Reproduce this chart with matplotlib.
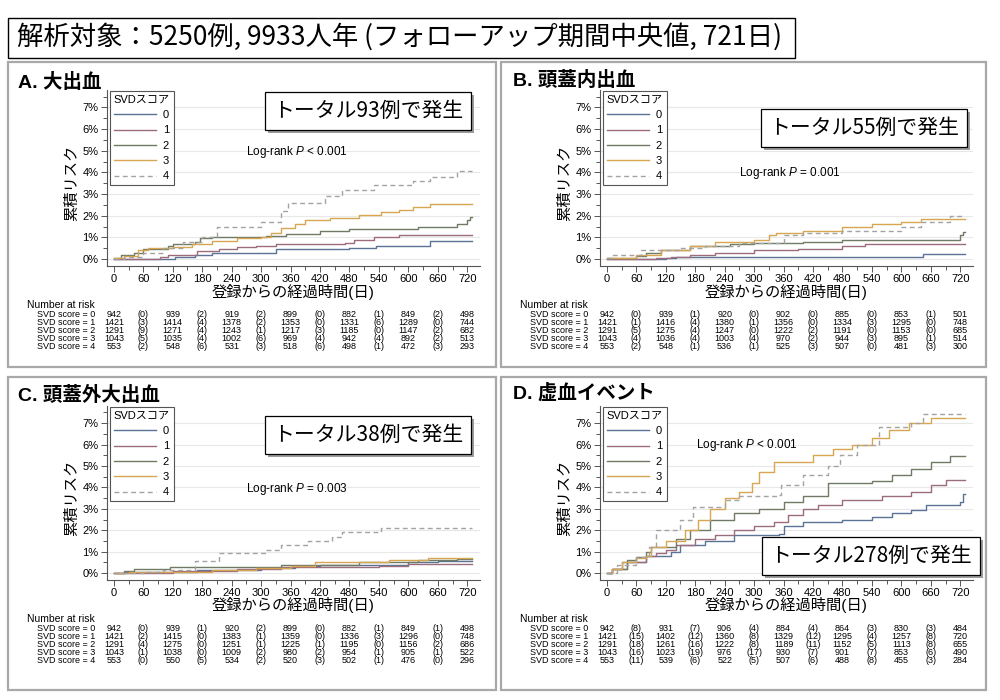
import matplotlib
matplotlib.use("Agg")
import matplotlib.pyplot as plt
from matplotlib.patches import Rectangle
from matplotlib.ticker import MultipleLocator, FuncFormatter
from matplotlib.transforms import blended_transform_factory

plt.rcParams['font.family'] = ['Liberation Sans', 'Noto Sans CJK JP']
plt.rcParams['mathtext.fontset'] = 'custom'
plt.rcParams['mathtext.rm'] = 'Liberation Sans'
plt.rcParams['mathtext.it'] = 'Liberation Sans:italic'

# --- data (days, cumulative risk %) ---
scores = ["0", "1", "2", "3", "4"]
time_ticks = [0, 120, 240, 360, 480, 600, 720]

# A. major bleeding
a0 = [(0, 0), (125, 0.1), (165, 0.2), (200, 0.3), (330, 0.45), (480, 0.5), (535, 0.6), (645, 0.85), (729, 0.85)]
a1 = [(0, 0), (95, 0.1), (110, 0.2), (170, 0.35), (215, 0.45), (250, 0.55), (290, 0.62), (330, 0.7), (470, 0.75),
      (490, 0.9), (530, 1.0), (580, 1.1), (729, 1.1)]
a2 = [(0, 0.05), (15, 0.2), (40, 0.3), (60, 0.45), (110, 0.6), (120, 0.7), (165, 0.8), (175, 0.95), (200, 1.0),
      (310, 1.05), (350, 1.15), (420, 1.3), (480, 1.4), (620, 1.5), (700, 1.6), (720, 1.8), (726, 1.95), (729, 1.95)]
a3 = [(0, 0.05), (20, 0.15), (50, 0.4), (70, 0.5), (120, 0.55), (160, 0.7), (200, 0.85), (250, 0.95), (300, 1.0),
      (320, 1.2), (340, 1.45), (370, 1.6), (390, 1.8), (440, 1.9), (500, 2.05), (545, 2.15), (580, 2.25),
      (610, 2.4), (645, 2.55), (729, 2.55)]
a4 = [(0, 0), (20, 0.1), (60, 0.3), (100, 0.5), (140, 0.8), (180, 1.0), (210, 1.5), (300, 1.7), (340, 2.2),
      (355, 2.6), (430, 2.9), (465, 3.2), (530, 3.4), (610, 3.6), (645, 3.8), (700, 4.05), (729, 4.05)]

# B. intracranial haemorrhage
b0 = [(0, 0), (120, 0.05), (140, 0.1), (645, 0.25), (729, 0.25)]
b1 = [(0, 0), (100, 0.05), (130, 0.1), (170, 0.2), (220, 0.3), (300, 0.4), (390, 0.45), (480, 0.6), (525, 0.7),
      (729, 0.7)]
b2 = [(0, 0.05), (60, 0.15), (80, 0.3), (110, 0.4), (170, 0.6), (250, 0.7), (300, 0.75), (400, 0.8), (480, 0.9),
      (700, 0.9), (720, 1.1), (726, 1.25), (729, 1.25)]
b3 = [(0, 0.05), (60, 0.2), (110, 0.4), (170, 0.6), (220, 0.8), (300, 0.9), (330, 1.1), (345, 1.2), (400, 1.3),
      (480, 1.5), (540, 1.6), (600, 1.7), (640, 1.85), (729, 1.85)]
b4 = [(0, 0.05), (10, 0.2), (70, 0.4), (150, 0.5), (200, 0.6), (270, 0.75), (360, 1.1), (400, 1.2), (480, 1.3),
      (600, 1.5), (640, 1.7), (700, 2.0), (729, 2.0)]

# C. extracranial major bleeding
c0 = [(0, 0), (20, 0.05), (170, 0.15), (300, 0.25), (370, 0.35), (420, 0.4), (600, 0.5), (660, 0.55), (729, 0.55)]
c1 = [(0, 0), (120, 0.1), (250, 0.2), (340, 0.3), (540, 0.35), (600, 0.45), (729, 0.45)]
c2 = [(0, 0), (20, 0.1), (40, 0.2), (115, 0.3), (340, 0.4), (500, 0.5), (620, 0.6), (700, 0.65), (729, 0.65)]
c3 = [(0, 0), (30, 0.05), (200, 0.15), (290, 0.25), (360, 0.35), (410, 0.5), (560, 0.6), (640, 0.72), (729, 0.72)]
c4 = [(0, 0), (60, 0.05), (100, 0.15), (165, 0.55), (215, 0.95), (310, 1.1), (340, 1.3), (395, 1.5), (445, 1.7),
      (465, 1.9), (545, 2.1), (729, 2.1)]

# D. ischaemic events
d0 = [(0, 0), (10, 0.2), (30, 0.5), (80, 0.8), (130, 1.0), (150, 1.3), (200, 1.5), (260, 1.8), (350, 1.85),
      (360, 2.2), (400, 2.4), (480, 2.5), (540, 2.6), (580, 2.8), (620, 2.95), (650, 3.2), (720, 3.3), (725, 3.7),
      (729, 3.7)]
d1 = [(0, 0), (10, 0.2), (40, 0.5), (80, 0.8), (100, 0.95), (120, 1.1), (140, 1.3), (180, 1.6), (220, 1.8),
      (260, 2.0), (300, 2.2), (340, 2.4), (370, 2.7), (400, 3.0), (430, 3.2), (480, 3.4), (560, 3.6), (620, 3.8),
      (660, 4.1), (690, 4.35), (729, 4.35)]
d2 = [(0, 0), (10, 0.2), (40, 0.6), (60, 0.75), (80, 1.0), (90, 1.2), (140, 1.6), (170, 2.0), (210, 2.5),
      (260, 2.8), (310, 3.0), (360, 3.3), (400, 3.6), (450, 4.2), (540, 4.3), (580, 4.6), (620, 4.85), (660, 5.2),
      (700, 5.45), (729, 5.45)]
d3 = [(0, 0), (10, 0.2), (30, 0.5), (60, 0.7), (80, 0.8), (90, 1.2), (120, 1.5), (160, 2.0), (185, 2.5), (210, 3.0),
      (240, 3.5), (270, 3.8), (295, 4.2), (310, 4.7), (340, 5.2), (420, 5.5), (460, 5.8), (500, 6.0), (540, 6.3),
      (575, 6.7), (615, 7.0), (660, 7.25), (729, 7.25)]
d4 = [(0, 0), (20, 0.4), (60, 0.75), (85, 1.2), (100, 2.0), (150, 2.5), (175, 3.1), (240, 3.4), (270, 3.6),
      (350, 3.65), (355, 4.1), (400, 4.6), (450, 5.0), (475, 5.5), (510, 6.0), (555, 6.8), (620, 7.0), (645, 7.45),
      (729, 7.45)]

# number at risk and events in each interval
a_at_risk = [[942, 939, 919, 899, 882, 849, 498], [1421, 1414, 1378, 1353, 1331, 1289, 744],
             [1291, 1271, 1243, 1217, 1185, 1147, 682], [1043, 1035, 1002, 969, 942, 892, 513],
             [553, 548, 531, 518, 498, 472, 293]]
a_events = [[0, 2, 2, 0, 1, 2], [3, 4, 2, 0, 6, 0], [9, 4, 1, 3, 0, 2], [5, 4, 6, 4, 4, 2], [2, 6, 3, 6, 1, 3]]
b_at_risk = [[942, 939, 920, 902, 885, 853, 501], [1421, 1416, 1380, 1356, 1334, 1295, 748],
             [1291, 1275, 1247, 1222, 1191, 1153, 685], [1043, 1036, 1003, 970, 944, 895, 514],
             [553, 548, 536, 525, 507, 481, 300]]
b_events = [[0, 1, 0, 0, 0, 1], [1, 4, 1, 0, 3, 0], [5, 4, 0, 2, 0, 0], [4, 4, 4, 2, 3, 1], [2, 1, 1, 3, 0, 3]]
c_at_risk = [[942, 939, 920, 899, 882, 849, 498], [1421, 1415, 1383, 1359, 1336, 1296, 748],
             [1291, 1275, 1251, 1225, 1195, 1156, 686], [1043, 1038, 1009, 980, 954, 905, 522],
             [553, 550, 534, 520, 502, 476, 296]]
c_events = [[0, 1, 2, 0, 1, 1], [2, 0, 1, 0, 3, 0], [4, 0, 1, 1, 0, 2], [1, 0, 2, 2, 1, 1], [0, 5, 2, 3, 1, 0]]
d_at_risk = [[942, 931, 906, 884, 864, 830, 484], [1421, 1402, 1360, 1329, 1295, 1257, 720],
             [1291, 1261, 1222, 1189, 1152, 1113, 655], [1043, 1023, 976, 930, 901, 853, 490],
             [553, 539, 522, 507, 488, 455, 284]]
d_events = [[8, 7, 4, 4, 3, 3], [15, 12, 8, 12, 4, 8], [18, 16, 8, 11, 5, 8], [16, 19, 17, 7, 7, 6],
            [11, 6, 5, 6, 8, 3]]

panel_titles = ["A. 大出血", "B. 頭蓋内出血", "C. 頭蓋外大出血", "D. 虚血イベント"]
totals = ["トータル93例で発生", "トータル55例で発生", "トータル38例で発生", "トータル278例で発生"]
p_texts = [r"Log-rank $P$ < 0.001", r"Log-rank $P$ = 0.001", r"Log-rank $P$ = 0.003", r"Log-rank $P$ < 0.001"]
header = "解析対象：5250例, 9933人年 (フォローアップ期間中央値, 721日)"

colors = ["#5b7396", "#9c6b7c", "#707a64", "#d8a650", "#a3a3a3"]

W, H = 1000, 700
fig = plt.figure(figsize=(10, 7), dpi=100)


def fx(x):
    return x / W


def fy(y):
    return 1 - y / H


def px_rect(l, t, r, b):
    return [fx(l), fy(b), (r - l) / W, (b - t) / H]


# frames
fig.add_artist(Rectangle((fx(8), fy(58)), 787 / W, 40 / H, transform=fig.transFigure,
                         fill=False, ec="black", lw=1.0))
fig.text(fx(17), fy(37), header, fontsize=19, ha="left", va="center", family=["Noto Sans CJK JP"])

frames = [(8, 62, 496, 367), (501, 62, 986, 367), (8, 377, 496, 690), (501, 377, 986, 690)]
for l, t, r, b in frames:
    fig.add_artist(Rectangle((fx(l), fy(b)), (r - l) / W, (b - t) / H, transform=fig.transFigure,
                             fill=False, ec="#a8a8a8", lw=1.6))

axes_px = [(107, 90, 480, 266), (600, 90, 973, 266), (107, 406, 480, 580), (600, 406, 973, 580)]
title_px = [(18, 82), (513, 80), (18, 395), (513, 393)]
total_px = [(368, 111), (864, 128), (368, 435), (871, 556)]
p_px = [(297, 152), (790, 173), (297, 489), (747, 445)]

curves = [[a0, a1, a2, a3, a4], [b0, b1, b2, b3, b4], [c0, c1, c2, c3, c4], [d0, d1, d2, d3, d4]]
risk_tables = [a_at_risk, b_at_risk, c_at_risk, d_at_risk]
event_tables = [a_events, b_events, c_events, d_events]

notes = []
for i in range(4):
    l, t, r, b = axes_px[i]
    ax = fig.add_axes(px_rect(l, t, r, b))
    for k, pts in enumerate(curves[i]):
        days = [p[0] for p in pts]
        risk = [p[1] for p in pts]
        ls = (0, (3.5, 2.5)) if k == 4 else "-"
        ax.step(days, risk, where="post", color=colors[k], lw=1.0, ls=ls, label=scores[k])

    ax.set_xlim(-14, 746)
    ax.set_ylim(-0.32, 7.8)
    ax.xaxis.set_major_locator(MultipleLocator(60))
    ax.xaxis.set_minor_locator(MultipleLocator(30))
    ax.yaxis.set_major_locator(MultipleLocator(1))
    ax.yaxis.set_minor_locator(MultipleLocator(0.5))
    ax.yaxis.set_major_formatter(FuncFormatter(lambda v, _: f"{v:.0f}%"))
    ax.set_yticks(range(8))
    ax.grid(axis="y", color="#e8e8e8", lw=0.8)
    ax.set_axisbelow(True)
    for side in ["top", "right"]:
        ax.spines[side].set_visible(False)
    for side in ["left", "bottom"]:
        ax.spines[side].set_color("#555555")
        ax.spines[side].set_linewidth(0.8)
    ax.tick_params(which="major", length=4, width=0.7, color="#555555", labelsize=8, pad=2)
    ax.tick_params(which="minor", length=3, width=0.7, color="#555555")
    ax.set_xticks(range(0, 721, 60))

    ax.set_xlabel("登録からの経過時間(日)", fontsize=11)
    ax.xaxis.set_label_coords(0.5, -0.1)
    ax.set_ylabel("累積リスク", fontsize=11)
    ax.yaxis.set_label_coords(-0.075, 0.47)

    leg = ax.legend(title="SVDスコア", loc="upper left", bbox_to_anchor=(0.008, 0.995), fontsize=8,
                    title_fontsize=8, alignment="left", frameon=True, fancybox=False, framealpha=1,
                    edgecolor="#555555", handlelength=3.8, handletextpad=0.6, labelspacing=0.48,
                    borderpad=0.35, borderaxespad=0.0)
    leg.get_frame().set_linewidth(0.8)

    # number at risk table
    tr = blended_transform_factory(ax.transData, ax.transAxes)
    h = b - t
    ax.text(-178, -39 / h, "Number at risk", transform=tr, fontsize=7.5, ha="left", va="center")
    for k in range(5):
        yy = -(48.5 + 8.1 * k) / h
        ax.text(-37, yy, f"SVD score = {scores[k]}", transform=tr, fontsize=6.5, ha="right", va="center")
        for j, n in enumerate(risk_tables[i][k]):
            ax.text(time_ticks[j], yy, str(n), transform=tr, fontsize=6.5, ha="center", va="center")
        for j, e in enumerate(event_tables[i][k]):
            ax.text(time_ticks[j] + 60, yy, f"({e})", transform=tr, fontsize=6.5, ha="center", va="center")

    fig.text(fx(title_px[i][0]), fy(title_px[i][1]), panel_titles[i], fontsize=14, fontweight="bold",
             ha="left", va="center")
    fig.text(fx(p_px[i][0]), fy(p_px[i][1]), p_texts[i], fontsize=8.5, ha="center", va="center")
    notes.append(fig.text(fx(total_px[i][0]), fy(total_px[i][1]), totals[i], fontsize=15, ha="center",
                          va="center", family=["Noto Sans CJK JP"], zorder=5,
                          bbox=dict(boxstyle="square,pad=0.4", fc="white", ec="black", lw=0.9)))

# drop shadows behind the boxed notes
fig.canvas.draw()
for txt in notes:
    ext = txt.get_bbox_patch().get_window_extent()
    fig.add_artist(Rectangle((fx(ext.x0 + 3), (ext.y0 - 3) / H), ext.width / W, ext.height / H,
                             transform=fig.transFigure, fc="#9c9c9c", ec="none", zorder=4))

fig.savefig("out.png", dpi=100)
